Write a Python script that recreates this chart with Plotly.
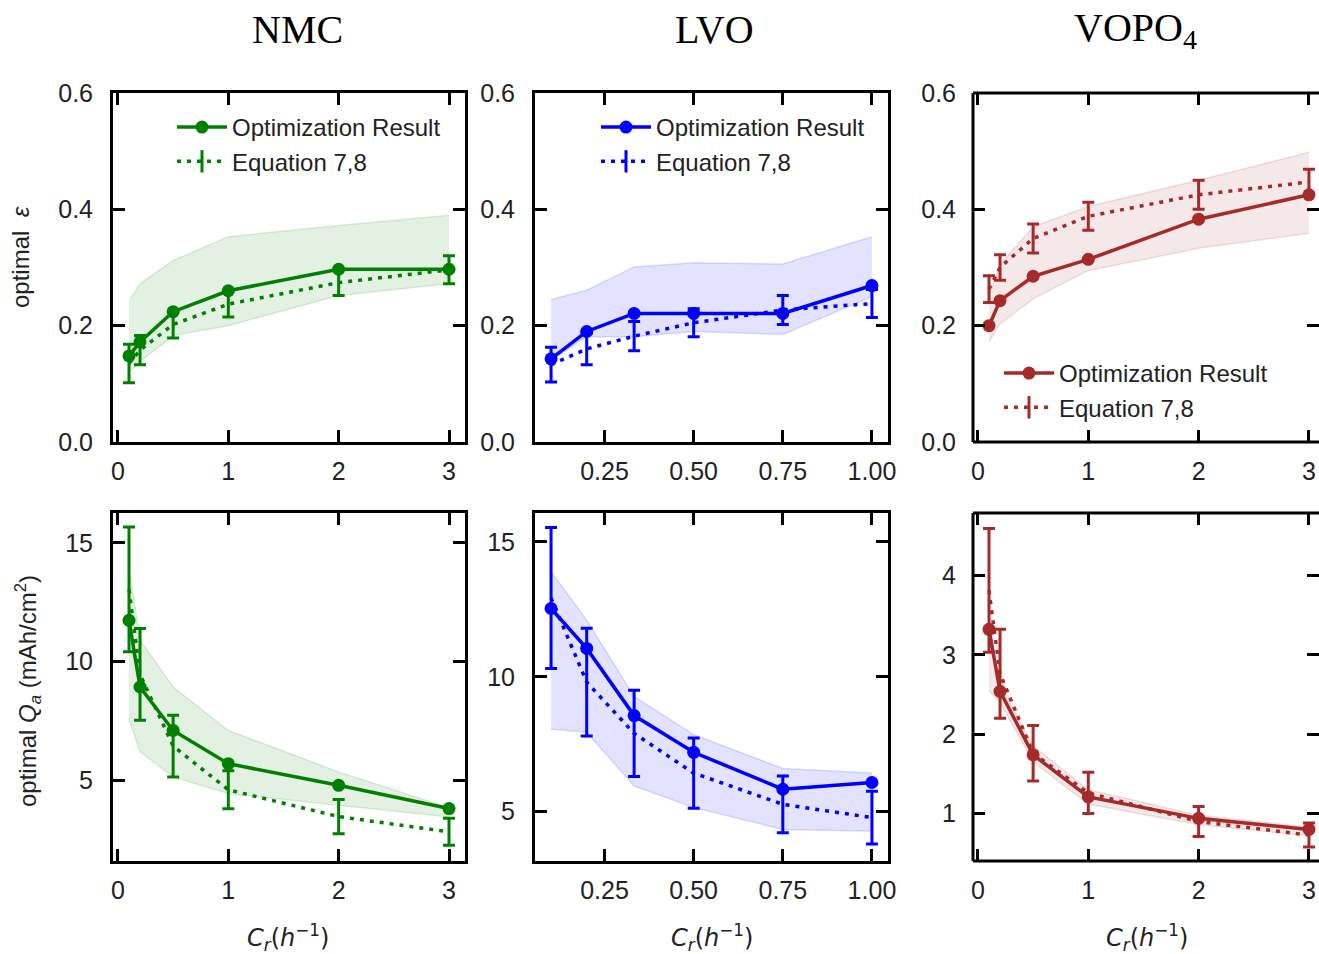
import plotly.graph_objects as go

# ---- C-rates (h^-1) ----
cr_nmc = [0.1, 0.2, 0.5, 1, 2, 3]
cr_lvo = [0.1, 0.2, 0.333, 0.5, 0.75, 1.0]
cr_vopo = [0.1, 0.2, 0.5, 1, 2, 3]

# ---- optimal porosity (epsilon) ----
eps_opt_nmc = [0.148, 0.172, 0.224, 0.26, 0.297, 0.297]
eps_eq_nmc = [0.135, 0.158, 0.202, 0.237, 0.274, 0.296]
eps_err_nmc = [0.033, 0.025, 0.023, 0.022, 0.022, 0.024]
eps_lo_nmc = [0.12, 0.138, 0.183, 0.2, 0.252, 0.272]
eps_hi_nmc = [0.243, 0.272, 0.312, 0.353, 0.372, 0.39]

eps_opt_lvo = [0.143, 0.19, 0.221, 0.221, 0.221, 0.269]
eps_eq_lvo = [0.133, 0.16, 0.182, 0.205, 0.227, 0.238]
eps_err_lvo = [0.03, 0.027, 0.025, 0.024, 0.025, 0.024]
eps_lo_lvo = [0.14, 0.181, 0.181, 0.19, 0.185, 0.25]
eps_hi_lvo = [0.245, 0.261, 0.301, 0.308, 0.306, 0.353]

eps_opt_vopo = [0.2, 0.243, 0.285, 0.314, 0.383, 0.425]
eps_eq_vopo = [0.263, 0.3, 0.35, 0.388, 0.425, 0.447]
eps_err_vopo = [0.023, 0.022, 0.025, 0.024, 0.025, 0.022]
eps_lo_vopo = [0.172, 0.203, 0.246, 0.295, 0.333, 0.359]
eps_hi_vopo = [0.252, 0.305, 0.37, 0.405, 0.45, 0.498]

# ---- optimal areal capacity Q_a (mAh/cm^2) ----
qa_opt_nmc = [11.74, 8.93, 7.1, 5.7, 4.79, 3.81]
qa_eq_nmc = [13.04, 9.46, 6.44, 4.6, 3.47, 2.83]
qa_err_nmc = [2.63, 1.93, 1.3, 0.8, 0.72, 0.57]
qa_lo_nmc = [7.6, 6.2, 5.14, 4.44, 3.95, 3.45]
qa_hi_nmc = [14.0, 10.9, 8.93, 7.1, 5.35, 3.85]

qa_opt_lvo = [12.53, 11.05, 8.56, 7.2, 5.83, 6.08]
qa_eq_lvo = [12.92, 9.8, 7.9, 6.43, 5.27, 4.78]
qa_err_lvo = [2.61, 2.0, 1.6, 1.3, 1.05, 0.98]
qa_lo_lvo = [8.05, 7.94, 5.95, 5.15, 4.34, 4.27]
qa_hi_lvo = [13.89, 12.1, 9.27, 7.85, 6.6, 6.43]

qa_opt_vopo = [3.32, 2.54, 1.74, 1.21, 0.94, 0.80]
qa_eq_vopo = [3.81, 2.76, 1.76, 1.26, 0.9, 0.73]
qa_err_vopo = [0.78, 0.56, 0.35, 0.26, 0.19, 0.15]
qa_lo_vopo = [2.55, 2.4, 1.65, 1.12, 0.86, 0.72]
qa_hi_vopo = [3.4, 2.62, 1.85, 1.3, 0.98, 0.83]

materials = ["NMC", "LVO", "VOPO<sub>4</sub>"]
colors = [(0, 128, 0), (0, 0, 255), (165, 42, 42)]
legend_labels = ["Optimization Result", "Equation 7,8"]

W, H = 1319, 954


def rgba(c, a=1.0):
    return "rgba(%d,%d,%d,%s)" % (c[0], c[1], c[2], a)


panels = [
    (cr_nmc, eps_opt_nmc, eps_eq_nmc, eps_err_nmc, eps_lo_nmc, eps_hi_nmc),
    (cr_lvo, eps_opt_lvo, eps_eq_lvo, eps_err_lvo, eps_lo_lvo, eps_hi_lvo),
    (cr_vopo, eps_opt_vopo, eps_eq_vopo, eps_err_vopo, eps_lo_vopo, eps_hi_vopo),
    (cr_nmc, qa_opt_nmc, qa_eq_nmc, qa_err_nmc, qa_lo_nmc, qa_hi_nmc),
    (cr_lvo, qa_opt_lvo, qa_eq_lvo, qa_err_lvo, qa_lo_lvo, qa_hi_lvo),
    (cr_vopo, qa_opt_vopo, qa_eq_vopo, qa_err_vopo, qa_lo_vopo, qa_hi_vopo),
]

fig = go.Figure()
legend_ids = ["legend", "legend2", "legend3"]
dots = "4px,6px"

for i, (cx, opt, eq, err, lo, hi) in enumerate(panels):
    col = i % 3
    c = colors[col]
    sfx = "" if i == 0 else str(i + 1)
    xa, ya = "x" + sfx, "y" + sfx
    in_legend = i < 3
    lg = legend_ids[col]

    # shaded spread band
    fig.add_trace(go.Scatter(x=cx, y=lo, xaxis=xa, yaxis=ya, mode="lines",
                             line=dict(color=rgba(c, 0.13), width=1.5),
                             showlegend=False, hoverinfo="skip"))
    fig.add_trace(go.Scatter(x=cx, y=hi, xaxis=xa, yaxis=ya, mode="lines",
                             line=dict(color=rgba(c, 0.13), width=1.5),
                             fill="tonexty", fillcolor=rgba(c, 0.11),
                             showlegend=False, hoverinfo="skip"))
    # Equation 7,8 estimate with error bars
    fig.add_trace(go.Scatter(x=cx, y=eq, xaxis=xa, yaxis=ya, mode="lines",
                             line=dict(color=rgba(c), width=3.5, dash=dots),
                             error_y=dict(type="data", array=err, visible=True,
                                          color=rgba(c), thickness=3, width=6),
                             showlegend=False))
    # optimization result
    fig.add_trace(go.Scatter(x=cx, y=opt, xaxis=xa, yaxis=ya, mode="lines+markers",
                             line=dict(color=rgba(c), width=3.5),
                             marker=dict(color=rgba(c), size=13),
                             name=legend_labels[0], showlegend=in_legend,
                             legend=lg))
    if in_legend:
        fig.add_trace(go.Scatter(x=[None], y=[None], xaxis=xa, yaxis=ya,
                                 mode="lines+markers",
                                 line=dict(color=rgba(c), width=3.5, dash=dots),
                                 marker=dict(symbol="line-ns-open", size=16,
                                             line=dict(color=rgba(c), width=3)),
                                 name=legend_labels[1], showlegend=True, legend=lg))

tick_font = dict(family="Liberation Sans, Arial, sans-serif", size=25, color="#222")
axis_common = dict(showline=True, linewidth=3, linecolor="black", mirror="ticks",
                   ticks="inside", ticklen=12, tickwidth=3, tickcolor="black",
                   showgrid=False, zeroline=False, tickfont=tick_font,
                   automargin=False)

# panel geometry (pixels)
col_px = [(113, 465), (535, 888), (973, 1319)]
row_px = [(93, 442), (513, 861)]
x_ranges = [[-0.045, 3.145], [0.055, 1.045], [-0.045, 3.091]]
x_ticks = [[0, 1, 2, 3], [0.25, 0.5, 0.75, 1.0], [0, 1, 2, 3]]
x_ticktext = [["0", "1", "2", "3"], ["0.25", "0.50", "0.75", "1.00"], ["0", "1", "2", "3"]]
y_ranges = [[0, 0.6], [0, 0.6], [0, 0.6], [1.6, 16.26], [3.17, 16.07], [0.403, 4.785]]
y_ticks = [[0, 0.2, 0.4, 0.6]] * 3 + [[5, 10, 15], [5, 10, 15], [1, 2, 3, 4]]

layout = {}
shapes = []
for i in range(6):
    col, row = i % 3, i // 3
    sfx = "" if i == 0 else str(i + 1)
    x0, x1 = col_px[col]
    y0, y1 = row_px[row]
    xd = [x0 / W, x1 / W]
    yd = [1 - y1 / H, 1 - y0 / H]
    # the rightmost column runs off the page edge: its frame is drawn
    # as three open sides so no right-hand border shows
    open_right = col == 2
    layout["xaxis" + sfx] = dict(axis_common, domain=xd, range=x_ranges[col],
                                 tickvals=x_ticks[col], ticktext=x_ticktext[col],
                                 anchor="y" + sfx, showline=not open_right,
                                 ticklabelstandoff=12 if open_right else 5)
    yt = y_ticks[i]
    layout["yaxis" + sfx] = dict(axis_common, domain=yd, range=y_ranges[i],
                                 tickvals=yt,
                                 ticktext=[("%.1f" % v) if row == 0 else "%d" % v for v in yt],
                                 anchor="x" + sfx, showline=not open_right,
                                 ticklabelstandoff=16 if open_right else 12)
    if open_right:
        xr, yr = "x%s domain" % sfx, "y%s domain" % sfx
        frame = dict(type="line", xref=xr, yref=yr, line=dict(color="black", width=3),
                     layer="above")
        shapes.append(dict(frame, x0=0, x1=0, y0=0, y1=1))
        shapes.append(dict(frame, x0=0, x1=1.01, y0=0, y1=0))
        shapes.append(dict(frame, x0=0, x1=1.01, y0=1, y1=1))
fig.update_layout(**layout)

leg_font = dict(family="Liberation Sans, Arial, sans-serif", size=24, color="#222")
leg_common = dict(font=leg_font, bgcolor="rgba(0,0,0,0)", borderwidth=0,
                  itemwidth=50, xanchor="left", yanchor="top", tracegroupgap=0,
                  traceorder="normal")
fig.update_layout(
    legend=dict(leg_common, x=172 / W, y=1 - 105 / H),
    legend2=dict(leg_common, x=596 / W, y=1 - 105 / H),
    legend3=dict(leg_common, x=999 / W, y=1 - 351 / H),
)

annotations = []
title_font = dict(family="Liberation Serif, Times New Roman, serif", size=40, color="black")
for col, name in enumerate(materials):
    annotations.append(dict(text=name, x=[297, 714, 1135][col] / W, y=1 - 30 / H,
                            xref="paper", yref="paper", showarrow=False, font=title_font,
                            xanchor="center", yanchor="middle"))
    annotations.append(dict(text="<i>C</i><sub><i>r</i></sub>(<i>h</i><sup>\u22121</sup>)",
                            x=[288, 712, 1147][col] / W, y=1 - 937 / H, xref="paper",
                            yref="paper", showarrow=False, xanchor="center", yanchor="middle",
                            font=dict(family="DejaVu Sans, sans-serif", size=24, color="#222")))
lab_font = dict(family="Liberation Sans, Arial, sans-serif", size=24, color="#222")
annotations.append(dict(text="optimal\u00a0\u00a0<i>\u03b5</i>", x=20 / W, y=1 - 257 / H,
                        xref="paper", yref="paper", showarrow=False, textangle=-90,
                        font=lab_font, xanchor="center", yanchor="middle"))
annotations.append(dict(text="optimal <i>Q</i><sub><i>a</i></sub> (mAh/cm<sup>2</sup>)",
                        x=28 / W, y=1 - 691 / H, xref="paper", yref="paper", showarrow=False,
                        textangle=-90, font=lab_font, xanchor="center", yanchor="middle"))

fig.update_layout(annotations=annotations, shapes=shapes, width=W, height=H,
                  margin=dict(l=0, r=0, t=0, b=0, autoexpand=False),
                  paper_bgcolor="white", plot_bgcolor="white")

fig.write_html("out.html", config={"displayModeBar": False})
